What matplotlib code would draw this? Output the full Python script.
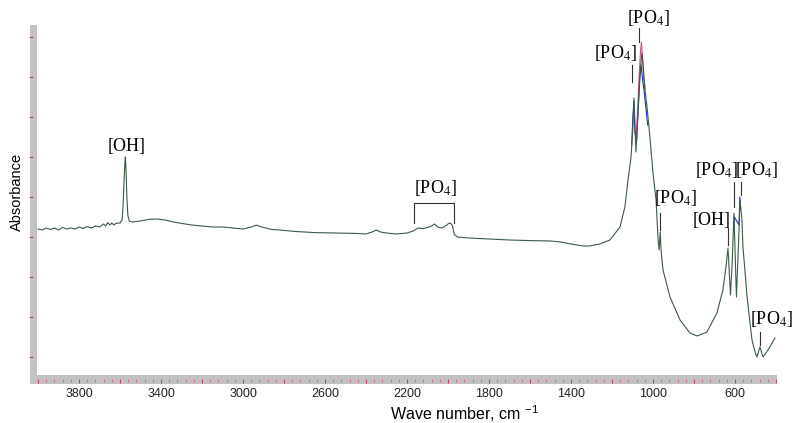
import matplotlib.pyplot as plt
from matplotlib.patches import Rectangle
from matplotlib.ticker import MultipleLocator, FuncFormatter

plt.rcParams['mathtext.fontset'] = 'stix'

# FTIR spectrum, wave number (cm-1) vs absorbance
wavenumber = [4000, 3980, 3960, 3940, 3920, 3900, 3880, 3860, 3840, 3820, 3800, 3780,
              3760, 3740, 3720, 3700, 3680, 3670, 3660, 3650, 3640, 3630, 3620, 3600,
              3590, 3585, 3580, 3577, 3574, 3571, 3567, 3562, 3555, 3540, 3500, 3460,
              3420, 3380, 3340, 3300, 3250, 3200, 3150, 3100, 3050, 3000, 2960, 2935,
              2915, 2890, 2860, 2820, 2750, 2650, 2550, 2450, 2400, 2370, 2350, 2330,
              2300, 2250, 2200, 2170, 2145, 2120, 2100, 2080, 2066, 2050, 2035, 2020,
              2000, 1988, 1978, 1970, 1955, 1900, 1800, 1700, 1600, 1500, 1450, 1400,
              1370, 1340, 1310, 1260, 1210, 1161, 1137, 1122, 1107, 1098, 1093, 1083,
              1073, 1063, 1054, 1049, 1039, 1029, 1015, 1000, 985, 975, 970, 965,
              960, 951, 917, 868, 820, 785, 737, 688, 659, 644, 634, 622,
              613, 605, 593, 582, 576, 566, 561, 541, 517, 502, 493, 478,
              463, 439, 405]
absorbance = [0.320, 0.3175, 0.3225, 0.319, 0.3225, 0.3175, 0.324, 0.320, 0.3225, 0.320, 0.325, 0.321,
              0.326, 0.3225, 0.3275, 0.325, 0.3325, 0.3275, 0.336, 0.330, 0.335, 0.330, 0.334, 0.335,
              0.3425, 0.380, 0.4425, 0.480, 0.500, 0.4725, 0.405, 0.355, 0.340, 0.3375, 0.340, 0.344,
              0.345, 0.3425, 0.3375, 0.334, 0.330, 0.3275, 0.325, 0.325, 0.3225, 0.320, 0.325, 0.330,
              0.326, 0.3225, 0.319, 0.3175, 0.314, 0.311, 0.310, 0.309, 0.3075, 0.3125, 0.3175, 0.3125,
              0.310, 0.3075, 0.310, 0.315, 0.3225, 0.321, 0.324, 0.3275, 0.3325, 0.325, 0.3225, 0.325,
              0.3325, 0.335, 0.3275, 0.3075, 0.300, 0.2975, 0.295, 0.2925, 0.291, 0.290, 0.2875, 0.2825,
              0.280, 0.2775, 0.2775, 0.2825, 0.2925, 0.325, 0.375, 0.4425, 0.500, 0.575, 0.6475, 0.5125,
              0.610, 0.710, 0.760, 0.7375, 0.6675, 0.625, 0.550, 0.460, 0.3925, 0.2925, 0.2675, 0.3125,
              0.2625, 0.2175, 0.150, 0.0925, 0.060, 0.0525, 0.0625, 0.110, 0.1675, 0.225, 0.2725, 0.155,
              0.2425, 0.360, 0.150, 0.2925, 0.3925, 0.3425, 0.275, 0.150, 0.0425, 0.0125, 0.0, 0.025,
              0.0, 0.0175, 0.0475]

# second and third scans, visible only around the strongest bands
scan2_wn = [1104, 1098, 1093, 1088, 1080, 1072, 1064, 1058, 1050, 1042, 1034, 1026]
scan2_abs = [0.53, 0.60, 0.64, 0.56, 0.54, 0.62, 0.70, 0.73, 0.69, 0.66, 0.62, 0.58]
scan3_wn = [1090, 1082, 1074, 1066, 1060, 1056, 1052, 1046, 1038]
scan3_abs = [0.57, 0.55, 0.63, 0.72, 0.77, 0.7875, 0.75, 0.70, 0.67]
scan2b_wn = [606, 603, 580, 576, 572]
scan2b_abs = [0.33, 0.35, 0.33, 0.40, 0.37]

# band labels: text, text position, marker line (wavenumber, top, bottom)
labels = [r'[OH]', r'[PO$_4$]', r'[PO$_4$]', r'[PO$_4$]', r'[OH]', r'[PO$_4$]', r'[PO$_4$]', r'[PO$_4$]']
label_x = [3566, 1024, 1185, 888, 712, 688, 493, 420]
label_y = [0.5275, 0.8475, 0.760, 0.3975, 0.3425, 0.4675, 0.4675, 0.095]
mark_x = [None, 1068, 1102, 966, 634, 605, 571, 478]
mark_top = [None, 0.8225, 0.730, 0.360, 0.3225, 0.4375, 0.4375, 0.0625]
mark_bottom = [None, 0.7875, 0.6875, 0.3175, 0.280, 0.375, 0.405, 0.030]

# bracket over the weak PO4 combination bands
bracket_x = [2166, 1971]
bracket_top = 0.385
bracket_bottom = 0.335
bracket_label_x = 2063
bracket_label_y = 0.4225

W, H = 793, 423
fig = plt.figure(figsize=(W / 100, H / 100), dpi=100)
ax = fig.add_axes([37 / W, 48 / H, 740 / W, 350 / H])

# grey axis bars
fig.patches.append(Rectangle((30 / W, 39 / H), 7 / W, 359 / H, transform=fig.transFigure,
                             facecolor='#c3c3c3', edgecolor='none', zorder=-1))
fig.patches.append(Rectangle((30 / W, 39 / H), 747 / W, 9 / H, transform=fig.transFigure,
                             facecolor='#c3c3c3', edgecolor='none', zorder=-1))

line_col = '#3b5b45'
ax.plot(wavenumber, absorbance, color=line_col, lw=0.8, zorder=3)
ax.plot(scan2_wn, scan2_abs, color='#2030c0', lw=0.8, zorder=2)
ax.plot(scan3_wn, scan3_abs, color='#d0508a', lw=0.8, zorder=2)
ax.plot(scan2b_wn, scan2b_abs, color='#2030c0', lw=0.8, zorder=2)

ax.set_xlim(4005, 395)
ax.set_ylim(-0.045, 0.83)

for s in ax.spines.values():
    s.set_visible(False)
ax.spines['left'].set_position(('outward', 3))
ax.spines['bottom'].set_position(('outward', 3))

ax.xaxis.set_major_locator(MultipleLocator(200))
ax.xaxis.set_minor_locator(MultipleLocator(40))
ax.xaxis.set_major_formatter(FuncFormatter(lambda v, p: f'{v:.0f}' if round(v) % 400 == 200 else ''))
ax.yaxis.set_major_locator(MultipleLocator(0.1))
ax.set_yticklabels([])
ax.tick_params(axis='x', which='major', direction='out', length=3.2, width=0.8,
               color='#d04060', labelsize=9, pad=3)
ax.tick_params(axis='x', which='minor', direction='out', length=2.2, width=0.7, color='#d87090')
ax.tick_params(axis='y', which='major', direction='out', length=3, width=0.8, color='#d04060',
               left=True, labelleft=False)
for lab in ax.get_xticklabels():
    lab.set_family('Liberation Sans')
    lab.set_color('#222222')

tfont = dict(family='Liberation Serif', fontsize=13, ha='center', va='center', clip_on=False)
for t, x, y in zip(labels, label_x, label_y):
    ax.text(x, y, t, **tfont)
for x, y0, y1 in zip(mark_x, mark_top, mark_bottom):
    if x is not None:
        ax.plot([x, x], [y0, y1], color='#333333', lw=0.8, clip_on=False)

ax.text(bracket_label_x, bracket_label_y, r'[PO$_4$]', **tfont)
ax.plot([bracket_x[0], bracket_x[0], bracket_x[1], bracket_x[1]],
        [bracket_bottom, bracket_top, bracket_top, bracket_bottom], color='#333333', lw=0.8)

fig.text(17 / W, 1 - 192 / H, 'Absorbance', rotation=90, ha='center', va='center',
         family='Liberation Sans', fontsize=10.5)
fig.text(390 / W, 1 - 413 / H, r'Wave number, cm $^{\mathregular{-1}}$', ha='left', va='center',
         family='Liberation Sans', fontsize=11.5)

fig.savefig('out.png', dpi=100)
